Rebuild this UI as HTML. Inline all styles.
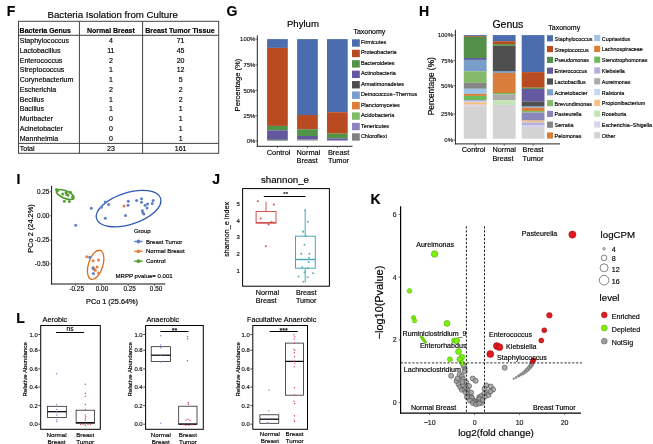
<!DOCTYPE html>
<html><head><meta charset="utf-8"><title>Figure</title><style>
html,body{margin:0;padding:0;background:#fff;width:653px;height:444px;overflow:hidden;}
svg{display:block;}
text{font-family:"Liberation Sans", Arial, Helvetica, sans-serif;stroke:currentColor;stroke-width:0.16px;}
</style></head><body>
<svg width="653" height="444" viewBox="0 0 653 444">
<text x="6.8" y="16" font-size="14" font-weight="bold">F</text>
<text x="226.6" y="15.6" font-size="14" font-weight="bold">G</text>
<text x="419" y="15.6" font-size="14" font-weight="bold">H</text>
<text x="16.6" y="184.1" font-size="14" font-weight="bold">I</text>
<text x="212.2" y="183.6" font-size="14" font-weight="bold">J</text>
<text x="370.6" y="203.5" font-size="14" font-weight="bold">K</text>
<text x="16.3" y="323" font-size="14" font-weight="bold">L</text>
<text x="47.5" y="17.5" font-size="9.7">Bacteria Isolation from Culture</text>
<rect x="18.5" y="21.3" width="200.2" height="132.0" fill="none" stroke="#444" stroke-width="1"/>
<line x1="79.4" y1="21.3" x2="79.4" y2="153" stroke="#444" stroke-width="1"/>
<line x1="142.6" y1="21.3" x2="142.6" y2="153" stroke="#444" stroke-width="1"/>
<line x1="18.5" y1="35.3" x2="218.7" y2="35.3" stroke="#444" stroke-width="1"/>
<line x1="18.5" y1="143.4" x2="218.7" y2="143.4" stroke="#444" stroke-width="1"/>
<text x="19.6" y="33" font-size="7" font-weight="bold">Bacteria Genus</text>
<text x="110.9" y="33" font-size="7" text-anchor="middle" font-weight="bold">Normal Breast</text>
<text x="179.9" y="33" font-size="7.05" text-anchor="middle" font-weight="bold">Breast Tumor Tissue</text>
<text x="19.7" y="43.10" font-size="7.05">Staphylococcus</text>
<text x="110.9" y="43.10" font-size="7" text-anchor="middle">4</text>
<text x="180.6" y="43.10" font-size="7" text-anchor="middle">71</text>
<text x="19.7" y="52.86" font-size="7.05">Lactobacillus</text>
<text x="110.9" y="52.86" font-size="7" text-anchor="middle">11</text>
<text x="180.6" y="52.86" font-size="7" text-anchor="middle">45</text>
<text x="19.7" y="62.62" font-size="7.05">Enterococcus</text>
<text x="110.9" y="62.62" font-size="7" text-anchor="middle">2</text>
<text x="180.6" y="62.62" font-size="7" text-anchor="middle">20</text>
<text x="19.7" y="72.38" font-size="7.05">Streptococcus</text>
<text x="110.9" y="72.38" font-size="7" text-anchor="middle">1</text>
<text x="180.6" y="72.38" font-size="7" text-anchor="middle">12</text>
<text x="19.7" y="82.14" font-size="7.05">Corynebacterium</text>
<text x="110.9" y="82.14" font-size="7" text-anchor="middle">1</text>
<text x="180.6" y="82.14" font-size="7" text-anchor="middle">5</text>
<text x="19.7" y="91.90" font-size="7.05">Escherichia</text>
<text x="110.9" y="91.90" font-size="7" text-anchor="middle">2</text>
<text x="180.6" y="91.90" font-size="7" text-anchor="middle">2</text>
<text x="19.7" y="101.66" font-size="7.05">Becillus</text>
<text x="110.9" y="101.66" font-size="7" text-anchor="middle">1</text>
<text x="180.6" y="101.66" font-size="7" text-anchor="middle">2</text>
<text x="19.7" y="111.42" font-size="7.05">Bacillus</text>
<text x="110.9" y="111.42" font-size="7" text-anchor="middle">1</text>
<text x="180.6" y="111.42" font-size="7" text-anchor="middle">1</text>
<text x="19.7" y="121.18" font-size="7.05">Muribacter</text>
<text x="110.9" y="121.18" font-size="7" text-anchor="middle">0</text>
<text x="180.6" y="121.18" font-size="7" text-anchor="middle">1</text>
<text x="19.7" y="130.94" font-size="7.05">Acinetobacter</text>
<text x="110.9" y="130.94" font-size="7" text-anchor="middle">0</text>
<text x="180.6" y="130.94" font-size="7" text-anchor="middle">1</text>
<text x="19.7" y="140.70" font-size="7.05">Mannheimia</text>
<text x="110.9" y="140.70" font-size="7" text-anchor="middle">0</text>
<text x="180.6" y="140.70" font-size="7" text-anchor="middle">1</text>
<text x="19.7" y="151.2" font-size="7.05">Total</text>
<text x="110.9" y="151.2" font-size="7" text-anchor="middle">23</text>
<text x="180.6" y="151.2" font-size="7" text-anchor="middle">161</text>
<text x="286.9" y="27.1" font-size="9.6">Phylum</text>
<line x1="257.3" y1="35.4" x2="257.3" y2="146.8" stroke="#222" stroke-width="1.0"/>
<line x1="256.8" y1="146.3" x2="352.5" y2="146.3" stroke="#222" stroke-width="1.0"/>
<line x1="255.3" y1="39.1" x2="257.3" y2="39.1" stroke="#333" stroke-width="0.7"/>
<text x="255.2" y="41.20" font-size="5.9" text-anchor="end" fill="#333">100%</text>
<line x1="255.3" y1="64.9" x2="257.3" y2="64.9" stroke="#333" stroke-width="0.7"/>
<text x="255.2" y="67.00" font-size="5.9" text-anchor="end" fill="#333">75%</text>
<line x1="255.3" y1="90.4" x2="257.3" y2="90.4" stroke="#333" stroke-width="0.7"/>
<text x="255.2" y="92.50" font-size="5.9" text-anchor="end" fill="#333">50%</text>
<line x1="255.3" y1="115.7" x2="257.3" y2="115.7" stroke="#333" stroke-width="0.7"/>
<text x="255.2" y="117.80" font-size="5.9" text-anchor="end" fill="#333">25%</text>
<line x1="255.3" y1="140.9" x2="257.3" y2="140.9" stroke="#333" stroke-width="0.7"/>
<text x="255.2" y="143.00" font-size="5.9" text-anchor="end" fill="#333">0%</text>
<rect x="267.10" y="39.10" width="20.70" height="8.80" fill="#4B6CAE"/>
<rect x="267.10" y="47.90" width="20.70" height="78.00" fill="#BA4A1F"/>
<rect x="267.10" y="125.90" width="20.70" height="4.40" fill="#529447"/>
<rect x="267.10" y="130.30" width="20.70" height="9.00" fill="#63579F"/>
<rect x="267.10" y="139.30" width="20.70" height="1.20" fill="#3c5f55"/>
<line x1="277.45000000000005" y1="146" x2="277.45000000000005" y2="148" stroke="#333" stroke-width="0.7"/>
<rect x="297.10" y="39.10" width="20.70" height="75.90" fill="#4B6CAE"/>
<rect x="297.10" y="115.00" width="20.70" height="14.20" fill="#BA4A1F"/>
<rect x="297.10" y="129.20" width="20.70" height="6.80" fill="#529447"/>
<rect x="297.10" y="136.00" width="20.70" height="3.60" fill="#63579F"/>
<rect x="297.10" y="139.60" width="20.70" height="0.90" fill="#828282"/>
<line x1="307.45000000000005" y1="146" x2="307.45000000000005" y2="148" stroke="#333" stroke-width="0.7"/>
<rect x="327.00" y="39.10" width="20.70" height="73.10" fill="#4B6CAE"/>
<rect x="327.00" y="112.20" width="20.70" height="21.50" fill="#BA4A1F"/>
<rect x="327.00" y="133.70" width="20.70" height="4.70" fill="#529447"/>
<rect x="327.00" y="138.40" width="20.70" height="2.10" fill="#63579F"/>
<line x1="337.35" y1="146" x2="337.35" y2="148" stroke="#333" stroke-width="0.7"/>
<text x="278.6" y="154.6" font-size="7.35" text-anchor="middle">Control</text>
<text x="308.4" y="154.6" font-size="7.35" text-anchor="middle">Normal</text>
<text x="296.56" y="162.6" font-size="7.35">Breast</text>
<text x="338.6" y="154.6" font-size="7.35" text-anchor="middle">Breast</text>
<text x="327.98" y="162.6" font-size="7.35">Tumor</text>
<text transform="translate(240.2,85.0) rotate(-90)" font-size="7.6" text-anchor="middle">Percentage (%)</text>
<text x="353.4" y="34.2" font-size="7">Taxonomy</text>
<rect x="352.00" y="39.30" width="7.80" height="7.40" fill="#4B6CAE"/>
<text x="360.9" y="44.00" font-size="5.5">Firmicutes</text>
<rect x="352.00" y="49.74" width="7.80" height="7.40" fill="#BA4A1F"/>
<text x="360.9" y="54.44" font-size="5.5">Proteobacteria</text>
<rect x="352.00" y="60.18" width="7.80" height="7.40" fill="#529447"/>
<text x="360.9" y="64.88" font-size="5.5">Bacteroidetes</text>
<rect x="352.00" y="70.62" width="7.80" height="7.40" fill="#63579F"/>
<text x="360.9" y="75.32" font-size="5.5">Actinobacteria</text>
<rect x="352.00" y="81.06" width="7.80" height="7.40" fill="#4D4D4D"/>
<text x="360.9" y="85.76" font-size="5.5">Armatimonadetes</text>
<rect x="352.00" y="91.50" width="7.80" height="7.40" fill="#769DCB"/>
<text x="360.9" y="96.20" font-size="5.5">Deinococcus−Thermus</text>
<rect x="352.00" y="101.94" width="7.80" height="7.40" fill="#DB7E38"/>
<text x="360.9" y="106.64" font-size="5.5">Planctomycetes</text>
<rect x="352.00" y="112.38" width="7.80" height="7.40" fill="#7DBB68"/>
<text x="360.9" y="117.08" font-size="5.5">Acidobacteria</text>
<rect x="352.00" y="122.82" width="7.80" height="7.40" fill="#8A84C0"/>
<text x="360.9" y="127.52" font-size="5.5">Tenericutes</text>
<rect x="352.00" y="133.26" width="7.80" height="7.40" fill="#828282"/>
<text x="360.9" y="137.96" font-size="5.5">Chloroflexi</text>
<text x="492.4" y="27.9" font-size="10.5">Genus</text>
<line x1="455.4" y1="29.8" x2="455.4" y2="144.4" stroke="#222" stroke-width="1.0"/>
<line x1="455" y1="143.9" x2="560" y2="143.9" stroke="#222" stroke-width="1.0"/>
<line x1="453.3" y1="35.1" x2="455.4" y2="35.1" stroke="#333" stroke-width="0.7"/>
<text x="453" y="37.20" font-size="6.0" text-anchor="end" fill="#333">100%</text>
<line x1="453.3" y1="60.7" x2="455.4" y2="60.7" stroke="#333" stroke-width="0.7"/>
<text x="453" y="62.80" font-size="6.0" text-anchor="end" fill="#333">75%</text>
<line x1="453.3" y1="85.8" x2="455.4" y2="85.8" stroke="#333" stroke-width="0.7"/>
<text x="453" y="87.90" font-size="6.0" text-anchor="end" fill="#333">50%</text>
<line x1="453.3" y1="114.0" x2="455.4" y2="114.0" stroke="#333" stroke-width="0.7"/>
<text x="453" y="116.10" font-size="6.0" text-anchor="end" fill="#333">25%</text>
<line x1="453.3" y1="140.0" x2="455.4" y2="140.0" stroke="#333" stroke-width="0.7"/>
<text x="453" y="142.10" font-size="6.0" text-anchor="end" fill="#333">0%</text>
<rect x="463.80" y="35.10" width="22.80" height="1.00" fill="#4B6DAE"/>
<rect x="463.80" y="36.10" width="22.80" height="0.80" fill="#B84C20"/>
<rect x="463.80" y="36.90" width="22.80" height="21.10" fill="#538F48"/>
<rect x="463.80" y="58.00" width="22.80" height="1.90" fill="#6459A0"/>
<rect x="463.80" y="59.90" width="22.80" height="11.40" fill="#789DC9"/>
<rect x="463.80" y="71.30" width="22.80" height="11.60" fill="#84BA6A"/>
<rect x="463.80" y="82.90" width="22.80" height="5.90" fill="#858585"/>
<rect x="463.80" y="88.80" width="22.80" height="5.10" fill="#9DC3E6"/>
<rect x="463.80" y="93.90" width="22.80" height="2.00" fill="#DD7E35"/>
<rect x="463.80" y="95.90" width="22.80" height="4.10" fill="#6BBB5C"/>
<rect x="463.80" y="100.00" width="22.80" height="1.60" fill="#B3AFDF"/>
<rect x="463.80" y="101.60" width="22.80" height="0.60" fill="#C5D8EF"/>
<rect x="463.80" y="102.20" width="22.80" height="2.60" fill="#F2C283"/>
<rect x="463.80" y="104.80" width="22.80" height="1.40" fill="#D9D5EE"/>
<rect x="463.80" y="106.20" width="22.80" height="32.50" fill="#D3D3D3"/>
<line x1="475.2" y1="143.9" x2="475.2" y2="145.9" stroke="#333" stroke-width="0.7"/>
<rect x="492.80" y="35.10" width="22.80" height="6.10" fill="#4B6DAE"/>
<rect x="492.80" y="41.20" width="22.80" height="2.90" fill="#B84C20"/>
<rect x="492.80" y="44.10" width="22.80" height="1.70" fill="#538F48"/>
<rect x="492.80" y="45.80" width="22.80" height="25.20" fill="#4F4F4F"/>
<rect x="492.80" y="71.00" width="22.80" height="1.90" fill="#789DC9"/>
<rect x="492.80" y="72.90" width="22.80" height="20.10" fill="#D97E3A"/>
<rect x="492.80" y="93.00" width="22.80" height="1.50" fill="#6BBB5C"/>
<rect x="492.80" y="94.50" width="22.80" height="5.70" fill="#ABABAB"/>
<rect x="492.80" y="100.20" width="22.80" height="4.60" fill="#C4E4B6"/>
<rect x="492.80" y="104.80" width="22.80" height="33.90" fill="#D3D3D3"/>
<line x1="504.2" y1="143.9" x2="504.2" y2="145.9" stroke="#333" stroke-width="0.7"/>
<rect x="521.70" y="35.10" width="22.80" height="37.00" fill="#4B6DAE"/>
<rect x="521.70" y="72.10" width="22.80" height="15.60" fill="#B84C20"/>
<rect x="521.70" y="87.70" width="22.80" height="1.20" fill="#538F48"/>
<rect x="521.70" y="88.90" width="22.80" height="12.50" fill="#6459A0"/>
<rect x="521.70" y="101.40" width="22.80" height="4.60" fill="#4F4F4F"/>
<rect x="521.70" y="106.00" width="22.80" height="1.60" fill="#789DC9"/>
<rect x="521.70" y="107.60" width="22.80" height="3.50" fill="#D97E3A"/>
<rect x="521.70" y="111.10" width="22.80" height="1.40" fill="#6BBB5C"/>
<rect x="521.70" y="112.50" width="22.80" height="8.10" fill="#8B86BA"/>
<rect x="521.70" y="120.60" width="22.80" height="2.00" fill="#F2C283"/>
<rect x="521.70" y="122.60" width="22.80" height="3.00" fill="#B3AFDF"/>
<rect x="521.70" y="125.60" width="22.80" height="1.40" fill="#D9D5EE"/>
<rect x="521.70" y="127.00" width="22.80" height="11.70" fill="#D3D3D3"/>
<line x1="533.1" y1="143.9" x2="533.1" y2="145.9" stroke="#333" stroke-width="0.7"/>
<text x="473.6" y="152.1" font-size="7.3" text-anchor="middle">Control</text>
<text x="504.2" y="152.1" font-size="7.3" text-anchor="middle">Normal</text>
<text x="492.44" y="160.6" font-size="7.3">Breast</text>
<text x="533.1" y="152.1" font-size="7.3" text-anchor="middle">Breast</text>
<text x="522.55" y="160.6" font-size="7.3">Tumor</text>
<text transform="translate(434.2,86.2) rotate(-90)" font-size="8.4" text-anchor="middle">Percentage (%)</text>
<text x="548.3" y="30" font-size="7">Taxonomy</text>
<rect x="547.00" y="35.20" width="6.00" height="6.20" fill="#4B6DAE"/>
<text x="554.6" y="40.70" font-size="5.4">Staphylococcus</text>
<rect x="547.00" y="46.00" width="6.00" height="6.20" fill="#B84C20"/>
<text x="554.6" y="51.50" font-size="5.4">Streptococcus</text>
<rect x="547.00" y="56.80" width="6.00" height="6.20" fill="#538F48"/>
<text x="554.6" y="62.30" font-size="5.4">Pseudomonas</text>
<rect x="547.00" y="67.60" width="6.00" height="6.20" fill="#6459A0"/>
<text x="554.6" y="73.10" font-size="5.4">Enterococcus</text>
<rect x="547.00" y="78.40" width="6.00" height="6.20" fill="#4F4F4F"/>
<text x="554.6" y="83.90" font-size="5.4">Lactobacillus</text>
<rect x="547.00" y="89.20" width="6.00" height="6.20" fill="#789DC9"/>
<text x="554.6" y="94.70" font-size="5.4">Acinetobacter</text>
<rect x="547.00" y="100.00" width="6.00" height="6.20" fill="#84BA6A"/>
<text x="554.6" y="105.50" font-size="5.4">Brevundimonas</text>
<rect x="547.00" y="110.80" width="6.00" height="6.20" fill="#8B86BA"/>
<text x="554.6" y="116.30" font-size="5.4">Pasteurella</text>
<rect x="547.00" y="121.60" width="6.00" height="6.20" fill="#858585"/>
<text x="554.6" y="127.10" font-size="5.4">Serratia</text>
<rect x="547.00" y="132.40" width="6.00" height="6.20" fill="#D97E3A"/>
<text x="554.6" y="137.90" font-size="5.4">Pelomonas</text>
<rect x="594.20" y="35.00" width="6.00" height="6.20" fill="#9DC3E6"/>
<text x="601.8" y="40.50" font-size="5.4">Cupriavidus</text>
<rect x="594.20" y="45.80" width="6.00" height="6.20" fill="#DD7E35"/>
<text x="601.8" y="51.30" font-size="5.4">Lachnospiraceae</text>
<rect x="594.20" y="56.60" width="6.00" height="6.20" fill="#6BBB5C"/>
<text x="601.8" y="62.10" font-size="5.4">Stenotrophomonas</text>
<rect x="594.20" y="67.40" width="6.00" height="6.20" fill="#B3AFDF"/>
<text x="601.8" y="72.90" font-size="5.4">Klebsiella</text>
<rect x="594.20" y="78.20" width="6.00" height="6.20" fill="#ABABAB"/>
<text x="601.8" y="83.70" font-size="5.4">Aureimonas</text>
<rect x="594.20" y="89.00" width="6.00" height="6.20" fill="#C5D8EF"/>
<text x="601.8" y="94.50" font-size="5.4">Ralstonia</text>
<rect x="594.20" y="99.80" width="6.00" height="6.20" fill="#F2C283"/>
<text x="601.8" y="105.30" font-size="5.4">Propionibacterium</text>
<rect x="594.20" y="110.60" width="6.00" height="6.20" fill="#C4E4B6"/>
<text x="601.8" y="116.10" font-size="5.4">Roseburia</text>
<rect x="594.20" y="121.40" width="6.00" height="6.20" fill="#D9D5EE"/>
<text x="601.8" y="126.90" font-size="5.4">Escherichia−Shigella</text>
<rect x="594.20" y="132.20" width="6.00" height="6.20" fill="#D3D3D3"/>
<text x="601.8" y="137.70" font-size="5.4">Other</text>
<line x1="51.6" y1="185.8" x2="51.6" y2="284.5" stroke="#111" stroke-width="1"/>
<line x1="51.1" y1="284.0" x2="165.4" y2="284.0" stroke="#111" stroke-width="1"/>
<line x1="49.6" y1="191.8" x2="51.6" y2="191.8" stroke="#333" stroke-width="0.7"/>
<text x="49.4" y="194.10" font-size="6.4" text-anchor="end" fill="#222">0.25</text>
<line x1="49.6" y1="215.8" x2="51.6" y2="215.8" stroke="#333" stroke-width="0.7"/>
<text x="49.4" y="218.10" font-size="6.4" text-anchor="end" fill="#222">0.00</text>
<line x1="49.6" y1="240.1" x2="51.6" y2="240.1" stroke="#333" stroke-width="0.7"/>
<text x="49.4" y="242.40" font-size="6.4" text-anchor="end" fill="#222">-0.25</text>
<line x1="49.6" y1="263.9" x2="51.6" y2="263.9" stroke="#333" stroke-width="0.7"/>
<text x="49.4" y="266.20" font-size="6.4" text-anchor="end" fill="#222">-0.50</text>
<line x1="75.6" y1="284.0" x2="75.6" y2="286.0" stroke="#333" stroke-width="0.7"/>
<text x="76.7" y="290.6" font-size="6.4" text-anchor="middle" fill="#222">-0.25</text>
<line x1="101.3" y1="284.0" x2="101.3" y2="286.0" stroke="#333" stroke-width="0.7"/>
<text x="102.0" y="290.6" font-size="6.4" text-anchor="middle" fill="#222">0.00</text>
<line x1="128.2" y1="284.0" x2="128.2" y2="286.0" stroke="#333" stroke-width="0.7"/>
<text x="129.7" y="290.6" font-size="6.4" text-anchor="middle" fill="#222">0.25</text>
<line x1="154.4" y1="284.0" x2="154.4" y2="286.0" stroke="#333" stroke-width="0.7"/>
<text x="156.1" y="290.6" font-size="6.4" text-anchor="middle" fill="#222">0.50</text>
<text x="112.0" y="303.6" font-size="7.3" text-anchor="middle">PCo 1 (25.64%)</text>
<text transform="translate(33.0,228.5) rotate(-90)" font-size="7.4" text-anchor="middle">PCo 2 (24.2%)</text>
<ellipse cx="0" cy="0" rx="33.6" ry="15.8" fill="none" stroke="#2E5CB2" stroke-width="1.3" transform="translate(128.6,208.6) rotate(-17.8)"/>
<ellipse cx="0" cy="0" rx="15.1" ry="7.2" fill="none" stroke="#DA6F22" stroke-width="1.3" transform="translate(95.65,264.85) rotate(-73)"/>
<ellipse cx="0" cy="0" rx="9.5" ry="3.7" fill="none" stroke="#4F9A2C" stroke-width="1.7" transform="translate(65.2,194.5) rotate(22.5)"/>
<circle cx="57.70" cy="190.40" r="1.5" fill="#56A02F"/>
<circle cx="62.70" cy="194.00" r="1.5" fill="#56A02F"/>
<circle cx="66.90" cy="194.60" r="1.5" fill="#56A02F"/>
<circle cx="68.00" cy="195.20" r="1.5" fill="#56A02F"/>
<circle cx="70.30" cy="192.20" r="1.5" fill="#56A02F"/>
<circle cx="64.40" cy="201.20" r="1.5" fill="#56A02F"/>
<circle cx="69.40" cy="201.60" r="1.5" fill="#56A02F"/>
<circle cx="72.50" cy="196.90" r="1.5" fill="#56A02F"/>
<circle cx="56.50" cy="189.60" r="1.5" fill="#56A02F"/>
<circle cx="66.00" cy="192.80" r="1.5" fill="#56A02F"/>
<circle cx="124.00" cy="205.90" r="1.5" fill="#E5803E"/>
<circle cx="86.80" cy="256.70" r="1.5" fill="#E5803E"/>
<circle cx="93.10" cy="260.80" r="1.5" fill="#E5803E"/>
<circle cx="98.50" cy="260.10" r="1.5" fill="#E5803E"/>
<circle cx="93.10" cy="267.50" r="1.5" fill="#E5803E"/>
<circle cx="97.10" cy="267.10" r="1.5" fill="#E5803E"/>
<circle cx="94.40" cy="269.30" r="1.5" fill="#E5803E"/>
<circle cx="95.20" cy="270.20" r="1.5" fill="#E5803E"/>
<circle cx="98.50" cy="272.90" r="1.5" fill="#E5803E"/>
<circle cx="91.30" cy="208.30" r="1.5" fill="#6180C8"/>
<circle cx="75.70" cy="225.30" r="1.5" fill="#6180C8"/>
<circle cx="105.30" cy="201.90" r="1.5" fill="#6180C8"/>
<circle cx="108.60" cy="204.50" r="1.5" fill="#6180C8"/>
<circle cx="101.40" cy="207.20" r="1.5" fill="#6180C8"/>
<circle cx="105.30" cy="218.20" r="1.5" fill="#6180C8"/>
<circle cx="125.50" cy="215.50" r="1.5" fill="#6180C8"/>
<circle cx="128.30" cy="201.30" r="1.5" fill="#6180C8"/>
<circle cx="128.00" cy="205.30" r="1.5" fill="#6180C8"/>
<circle cx="136.60" cy="200.40" r="1.5" fill="#6180C8"/>
<circle cx="141.50" cy="198.80" r="1.5" fill="#6180C8"/>
<circle cx="141.50" cy="202.30" r="1.5" fill="#6180C8"/>
<circle cx="145.10" cy="205.30" r="1.5" fill="#6180C8"/>
<circle cx="147.60" cy="204.10" r="1.5" fill="#6180C8"/>
<circle cx="147.00" cy="208.10" r="1.5" fill="#6180C8"/>
<circle cx="153.10" cy="200.40" r="1.5" fill="#6180C8"/>
<circle cx="152.20" cy="203.50" r="1.5" fill="#6180C8"/>
<circle cx="142.40" cy="210.80" r="1.5" fill="#6180C8"/>
<circle cx="143.90" cy="213.90" r="1.5" fill="#6180C8"/>
<circle cx="142.90" cy="212.70" r="1.5" fill="#6180C8"/>
<circle cx="89.70" cy="257.20" r="1.5" fill="#6180C8"/>
<circle cx="93.30" cy="273.60" r="1.5" fill="#6180C8"/>
<circle cx="93.10" cy="268.40" r="1.5" fill="#6180C8"/>
<text x="133.9" y="233.4" font-size="6.05">Group</text>
<line x1="134.2" y1="241.5" x2="142.7" y2="241.5" stroke="#6180C8" stroke-width="1.4"/>
<circle cx="138.45" cy="241.50" r="1.9" fill="#6180C8"/>
<text x="146.0" y="243.50" font-size="6.05">Breast Tumor</text>
<line x1="134.2" y1="251.35" x2="142.7" y2="251.35" stroke="#E5803E" stroke-width="1.4"/>
<circle cx="138.45" cy="251.35" r="1.9" fill="#E5803E"/>
<text x="146.0" y="253.35" font-size="6.05">Normal Breast</text>
<line x1="134.2" y1="261.2" x2="142.7" y2="261.2" stroke="#56A02F" stroke-width="1.4"/>
<circle cx="138.45" cy="261.20" r="1.9" fill="#56A02F"/>
<text x="146.0" y="263.20" font-size="6.05">Control</text>
<text x="115.5" y="278.0" font-size="6.05">MRPP pvalue= 0.001</text>
<text x="261.0" y="182.6" font-size="9.7">shannon_e</text>
<rect x="242.6" y="188.6" width="86.8" height="97.6" fill="none" stroke="#000" stroke-width="1"/>
<text x="239.8" y="272.90" font-size="6.0" text-anchor="end" fill="#222">1</text>
<text x="239.8" y="256.10" font-size="6.0" text-anchor="end" fill="#222">2</text>
<text x="239.8" y="239.30" font-size="6.0" text-anchor="end" fill="#222">3</text>
<text x="239.8" y="222.50" font-size="6.0" text-anchor="end" fill="#222">4</text>
<text x="239.8" y="205.70" font-size="6.0" text-anchor="end" fill="#222">5</text>
<text transform="translate(229.0,229.4) rotate(-90)" font-size="7.2" text-anchor="middle">shannon_e index</text>
<text x="267.4" y="294.9" font-size="7.2" text-anchor="middle">Normal</text>
<text x="255.8" y="303.4" font-size="7.2">Breast</text>
<text x="306.3" y="294.9" font-size="7.2" text-anchor="middle">Breast</text>
<text x="295.9" y="303.4" font-size="7.2">Tumor</text>
<line x1="263.8" y1="196.5" x2="305.5" y2="196.5" stroke="#000" stroke-width="1.1"/>
<text x="285.7" y="196.3" font-size="6.0" text-anchor="middle">**</text>
<line x1="266.0" y1="201.7" x2="266.0" y2="211.4" stroke="#D2524F" stroke-width="1"/>
<rect x="256.1" y="211.5" width="19.9" height="11.5" fill="none" stroke="#D2524F" stroke-width="1"/>
<line x1="256.1" y1="222.7" x2="276.0" y2="222.7" stroke="#D2524F" stroke-width="1.5"/>
<circle cx="257.90" cy="201.30" r="1.0" fill="#D2524F"/>
<circle cx="273.80" cy="204.50" r="1.0" fill="#D2524F"/>
<circle cx="260.60" cy="218.50" r="1.0" fill="#D2524F"/>
<circle cx="268.50" cy="224.60" r="1.0" fill="#D2524F"/>
<circle cx="265.80" cy="246.30" r="1.0" fill="#D2524F"/>
<circle cx="271.50" cy="222.00" r="1.0" fill="#D2524F"/>
<line x1="305.2" y1="210.2" x2="305.2" y2="236.2" stroke="#47A9B0" stroke-width="1"/>
<line x1="305.2" y1="268.2" x2="305.2" y2="282.3" stroke="#47A9B0" stroke-width="1"/>
<rect x="295.5" y="236.2" width="19.8" height="32.0" fill="none" stroke="#47A9B0" stroke-width="1"/>
<line x1="295.5" y1="259.5" x2="315.3" y2="259.5" stroke="#47A9B0" stroke-width="1.4"/>
<circle cx="305.10" cy="210.20" r="1.0" fill="#5DB4BA"/>
<circle cx="307.80" cy="221.70" r="1.0" fill="#5DB4BA"/>
<circle cx="303.10" cy="231.50" r="1.0" fill="#5DB4BA"/>
<circle cx="303.10" cy="231.70" r="1.0" fill="#5DB4BA"/>
<circle cx="304.50" cy="244.80" r="1.0" fill="#5DB4BA"/>
<circle cx="301.30" cy="253.80" r="1.0" fill="#5DB4BA"/>
<circle cx="309.40" cy="253.80" r="1.0" fill="#5DB4BA"/>
<circle cx="309.00" cy="257.80" r="1.0" fill="#5DB4BA"/>
<circle cx="301.30" cy="259.60" r="1.0" fill="#5DB4BA"/>
<circle cx="308.50" cy="262.00" r="1.0" fill="#5DB4BA"/>
<circle cx="302.20" cy="267.30" r="1.0" fill="#5DB4BA"/>
<circle cx="307.60" cy="267.90" r="1.0" fill="#5DB4BA"/>
<circle cx="304.50" cy="272.20" r="1.0" fill="#5DB4BA"/>
<circle cx="313.00" cy="273.30" r="1.0" fill="#5DB4BA"/>
<circle cx="298.60" cy="276.40" r="1.0" fill="#5DB4BA"/>
<circle cx="307.60" cy="277.30" r="1.0" fill="#5DB4BA"/>
<circle cx="303.40" cy="281.80" r="1.0" fill="#5DB4BA"/>
<circle cx="306.00" cy="236.00" r="1.0" fill="#5DB4BA"/>
<circle cx="451.20" cy="375.80" r="2.5" fill="#9E9E9E" stroke="#555555" stroke-width="0.7" fill-opacity="0.8"/>
<circle cx="459.60" cy="374.60" r="2.5" fill="#9E9E9E" stroke="#555555" stroke-width="0.7" fill-opacity="0.8"/>
<circle cx="461.90" cy="376.30" r="2.5" fill="#9E9E9E" stroke="#555555" stroke-width="0.7" fill-opacity="0.8"/>
<circle cx="464.70" cy="368.40" r="2.5" fill="#9E9E9E" stroke="#555555" stroke-width="0.7" fill-opacity="0.8"/>
<circle cx="464.70" cy="371.30" r="2.5" fill="#9E9E9E" stroke="#555555" stroke-width="0.7" fill-opacity="0.8"/>
<circle cx="463.00" cy="379.10" r="2.5" fill="#9E9E9E" stroke="#555555" stroke-width="0.7" fill-opacity="0.8"/>
<circle cx="472.80" cy="378.60" r="2.5" fill="#9E9E9E" stroke="#555555" stroke-width="0.7" fill-opacity="0.8"/>
<circle cx="475.60" cy="380.80" r="2.5" fill="#9E9E9E" stroke="#555555" stroke-width="0.7" fill-opacity="0.8"/>
<circle cx="458.50" cy="384.20" r="2.5" fill="#9E9E9E" stroke="#555555" stroke-width="0.7" fill-opacity="0.8"/>
<circle cx="460.20" cy="387.00" r="2.5" fill="#9E9E9E" stroke="#555555" stroke-width="0.7" fill-opacity="0.8"/>
<circle cx="463.00" cy="385.30" r="2.5" fill="#9E9E9E" stroke="#555555" stroke-width="0.7" fill-opacity="0.8"/>
<circle cx="461.90" cy="389.80" r="2.5" fill="#9E9E9E" stroke="#555555" stroke-width="0.7" fill-opacity="0.8"/>
<circle cx="464.70" cy="389.30" r="2.5" fill="#9E9E9E" stroke="#555555" stroke-width="0.7" fill-opacity="0.8"/>
<circle cx="467.50" cy="389.80" r="2.5" fill="#9E9E9E" stroke="#555555" stroke-width="0.7" fill-opacity="0.8"/>
<circle cx="465.80" cy="392.60" r="2.5" fill="#9E9E9E" stroke="#555555" stroke-width="0.7" fill-opacity="0.8"/>
<circle cx="468.60" cy="393.80" r="2.5" fill="#9E9E9E" stroke="#555555" stroke-width="0.7" fill-opacity="0.8"/>
<circle cx="469.20" cy="396.60" r="2.5" fill="#9E9E9E" stroke="#555555" stroke-width="0.7" fill-opacity="0.8"/>
<circle cx="471.40" cy="397.70" r="2.5" fill="#9E9E9E" stroke="#555555" stroke-width="0.7" fill-opacity="0.8"/>
<circle cx="472.60" cy="400.00" r="2.5" fill="#9E9E9E" stroke="#555555" stroke-width="0.7" fill-opacity="0.8"/>
<circle cx="474.80" cy="401.60" r="2.5" fill="#9E9E9E" stroke="#555555" stroke-width="0.7" fill-opacity="0.8"/>
<circle cx="476.50" cy="402.20" r="2.5" fill="#9E9E9E" stroke="#555555" stroke-width="0.7" fill-opacity="0.8"/>
<circle cx="478.80" cy="400.00" r="2.5" fill="#9E9E9E" stroke="#555555" stroke-width="0.7" fill-opacity="0.8"/>
<circle cx="479.30" cy="397.10" r="2.5" fill="#9E9E9E" stroke="#555555" stroke-width="0.7" fill-opacity="0.8"/>
<circle cx="486.30" cy="385.40" r="2.5" fill="#9E9E9E" stroke="#555555" stroke-width="0.7" fill-opacity="0.8"/>
<circle cx="490.80" cy="386.50" r="2.5" fill="#9E9E9E" stroke="#555555" stroke-width="0.7" fill-opacity="0.8"/>
<circle cx="493.10" cy="389.50" r="2.5" fill="#9E9E9E" stroke="#555555" stroke-width="0.7" fill-opacity="0.8"/>
<circle cx="484.60" cy="388.70" r="2.5" fill="#9E9E9E" stroke="#555555" stroke-width="0.7" fill-opacity="0.8"/>
<circle cx="487.50" cy="392.70" r="2.5" fill="#9E9E9E" stroke="#555555" stroke-width="0.7" fill-opacity="0.8"/>
<circle cx="484.10" cy="393.80" r="2.5" fill="#9E9E9E" stroke="#555555" stroke-width="0.7" fill-opacity="0.8"/>
<circle cx="481.30" cy="396.10" r="2.5" fill="#9E9E9E" stroke="#555555" stroke-width="0.7" fill-opacity="0.8"/>
<circle cx="479.60" cy="398.90" r="2.5" fill="#9E9E9E" stroke="#555555" stroke-width="0.7" fill-opacity="0.8"/>
<circle cx="481.80" cy="402.80" r="2.5" fill="#9E9E9E" stroke="#555555" stroke-width="0.7" fill-opacity="0.8"/>
<circle cx="475.10" cy="402.30" r="2.5" fill="#9E9E9E" stroke="#555555" stroke-width="0.7" fill-opacity="0.8"/>
<circle cx="473.40" cy="400.60" r="2.5" fill="#9E9E9E" stroke="#555555" stroke-width="0.7" fill-opacity="0.8"/>
<circle cx="471.70" cy="397.70" r="2.5" fill="#9E9E9E" stroke="#555555" stroke-width="0.7" fill-opacity="0.8"/>
<circle cx="471.10" cy="392.70" r="2.5" fill="#9E9E9E" stroke="#555555" stroke-width="0.7" fill-opacity="0.8"/>
<circle cx="504.70" cy="367.70" r="2.5" fill="#9E9E9E" stroke="#555555" stroke-width="0.7" fill-opacity="0.8"/>
<circle cx="463.50" cy="365.50" r="2.5" fill="#9E9E9E" stroke="#555555" stroke-width="0.7" fill-opacity="0.8"/>
<circle cx="466.00" cy="382.00" r="2.5" fill="#9E9E9E" stroke="#555555" stroke-width="0.7" fill-opacity="0.8"/>
<circle cx="469.00" cy="386.00" r="2.5" fill="#9E9E9E" stroke="#555555" stroke-width="0.7" fill-opacity="0.8"/>
<circle cx="467.00" cy="397.00" r="2.5" fill="#9E9E9E" stroke="#555555" stroke-width="0.7" fill-opacity="0.8"/>
<circle cx="470.00" cy="400.50" r="2.5" fill="#9E9E9E" stroke="#555555" stroke-width="0.7" fill-opacity="0.8"/>
<circle cx="473.00" cy="403.00" r="2.5" fill="#9E9E9E" stroke="#555555" stroke-width="0.7" fill-opacity="0.8"/>
<circle cx="476.00" cy="404.30" r="2.5" fill="#9E9E9E" stroke="#555555" stroke-width="0.7" fill-opacity="0.8"/>
<circle cx="479.00" cy="403.50" r="2.5" fill="#9E9E9E" stroke="#555555" stroke-width="0.7" fill-opacity="0.8"/>
<circle cx="482.50" cy="400.00" r="2.5" fill="#9E9E9E" stroke="#555555" stroke-width="0.7" fill-opacity="0.8"/>
<circle cx="485.00" cy="396.50" r="2.5" fill="#9E9E9E" stroke="#555555" stroke-width="0.7" fill-opacity="0.8"/>
<circle cx="462.50" cy="382.00" r="2.5" fill="#9E9E9E" stroke="#555555" stroke-width="0.7" fill-opacity="0.8"/>
<circle cx="456.50" cy="381.00" r="2.5" fill="#9E9E9E" stroke="#555555" stroke-width="0.7" fill-opacity="0.8"/>
<circle cx="457.50" cy="378.50" r="2.5" fill="#9E9E9E" stroke="#555555" stroke-width="0.7" fill-opacity="0.8"/>
<circle cx="466.00" cy="387.50" r="2.5" fill="#9E9E9E" stroke="#555555" stroke-width="0.7" fill-opacity="0.8"/>
<circle cx="488.50" cy="395.00" r="2.5" fill="#9E9E9E" stroke="#555555" stroke-width="0.7" fill-opacity="0.8"/>
<circle cx="490.50" cy="391.50" r="2.5" fill="#9E9E9E" stroke="#555555" stroke-width="0.7" fill-opacity="0.8"/>
<circle cx="513.70" cy="378.80" r="0.8" fill="#9E9E9E" stroke="#555555" stroke-width="0.5"/>
<circle cx="516.00" cy="377.50" r="1.0" fill="#9E9E9E" stroke="#555555" stroke-width="0.5"/>
<circle cx="518.50" cy="376.00" r="1.2" fill="#9E9E9E" stroke="#555555" stroke-width="0.5"/>
<circle cx="521.00" cy="374.50" r="1.4" fill="#9E9E9E" stroke="#555555" stroke-width="0.5"/>
<circle cx="523.50" cy="373.00" r="1.6" fill="#9E9E9E" stroke="#555555" stroke-width="0.5"/>
<circle cx="525.50" cy="371.30" r="1.8" fill="#9E9E9E" stroke="#555555" stroke-width="0.5"/>
<circle cx="527.50" cy="369.50" r="2.0" fill="#9E9E9E" stroke="#555555" stroke-width="0.5"/>
<circle cx="529.50" cy="367.50" r="2.0" fill="#9E9E9E" stroke="#555555" stroke-width="0.5"/>
<circle cx="531.00" cy="365.50" r="2.1" fill="#9E9E9E" stroke="#555555" stroke-width="0.5"/>
<circle cx="532.00" cy="363.60" r="2.2" fill="#9E9E9E" stroke="#555555" stroke-width="0.5"/>
<circle cx="434.60" cy="254.00" r="3.3" fill="#7AF20A" stroke="#4E9A0A" stroke-width="0.5"/>
<circle cx="409.50" cy="290.90" r="2.3" fill="#7AF20A" stroke="#4E9A0A" stroke-width="0.5"/>
<circle cx="413.50" cy="317.60" r="2.2" fill="#7AF20A" stroke="#4E9A0A" stroke-width="0.5"/>
<circle cx="414.60" cy="320.70" r="2.2" fill="#7AF20A" stroke="#4E9A0A" stroke-width="0.5"/>
<circle cx="447.00" cy="323.40" r="3.0" fill="#7AF20A" stroke="#4E9A0A" stroke-width="0.5"/>
<circle cx="421.60" cy="337.20" r="1.4" fill="#7AF20A" stroke="#4E9A0A" stroke-width="0.5"/>
<circle cx="422.80" cy="338.80" r="1.4" fill="#7AF20A" stroke="#4E9A0A" stroke-width="0.5"/>
<circle cx="424.00" cy="340.40" r="1.4" fill="#7AF20A" stroke="#4E9A0A" stroke-width="0.5"/>
<circle cx="425.20" cy="342.00" r="1.4" fill="#7AF20A" stroke="#4E9A0A" stroke-width="0.5"/>
<circle cx="454.00" cy="340.60" r="2.5" fill="#7AF20A" stroke="#4E9A0A" stroke-width="0.5"/>
<circle cx="456.70" cy="340.80" r="3.0" fill="#7AF20A" stroke="#4E9A0A" stroke-width="0.5"/>
<circle cx="458.50" cy="351.60" r="3.0" fill="#7AF20A" stroke="#4E9A0A" stroke-width="0.5"/>
<circle cx="449.90" cy="359.30" r="2.5" fill="#7AF20A" stroke="#4E9A0A" stroke-width="0.5"/>
<circle cx="462.10" cy="357.10" r="2.8" fill="#7AF20A" stroke="#4E9A0A" stroke-width="0.5"/>
<circle cx="459.70" cy="359.30" r="2.8" fill="#7AF20A" stroke="#4E9A0A" stroke-width="0.5"/>
<circle cx="462.10" cy="362.90" r="2.5" fill="#7AF20A" stroke="#4E9A0A" stroke-width="0.5"/>
<circle cx="572.40" cy="234.60" r="3.6" fill="#DE1A20" stroke="#951012" stroke-width="0.5"/>
<circle cx="549.40" cy="315.30" r="2.8" fill="#DE1A20" stroke="#951012" stroke-width="0.5"/>
<circle cx="544.30" cy="330.30" r="2.5" fill="#DE1A20" stroke="#951012" stroke-width="0.5"/>
<circle cx="541.30" cy="340.50" r="2.5" fill="#DE1A20" stroke="#951012" stroke-width="0.5"/>
<circle cx="496.80" cy="346.00" r="3.4" fill="#DE1A20" stroke="#951012" stroke-width="0.5"/>
<circle cx="499.50" cy="347.20" r="3.4" fill="#DE1A20" stroke="#951012" stroke-width="0.5"/>
<circle cx="490.30" cy="354.10" r="3.5" fill="#DE1A20" stroke="#951012" stroke-width="0.5"/>
<circle cx="532.30" cy="361.60" r="2.2" fill="#DE1A20" stroke="#951012" stroke-width="0.5"/>
<circle cx="533.80" cy="360.00" r="2.2" fill="#DE1A20" stroke="#951012" stroke-width="0.5"/>
<line x1="466.4" y1="226.3" x2="466.4" y2="413" stroke="#222" stroke-width="1" stroke-dasharray="2.3 1.6"/>
<line x1="484.5" y1="226.3" x2="484.5" y2="413" stroke="#222" stroke-width="1" stroke-dasharray="2.3 1.6"/>
<line x1="400.6" y1="362.9" x2="582" y2="362.9" stroke="#333" stroke-width="1" stroke-dasharray="2.3 1.6"/>
<line x1="400.6" y1="206.2" x2="400.6" y2="413.6" stroke="#000" stroke-width="1.2"/>
<line x1="400.0" y1="413.1" x2="581" y2="413.1" stroke="#000" stroke-width="1.2"/>
<line x1="398.6" y1="402.6" x2="400.6" y2="402.6" stroke="#333" stroke-width="0.7"/>
<text x="396.6" y="405.10" font-size="7" text-anchor="end" fill="#333">0</text>
<line x1="398.6" y1="339.90000000000003" x2="400.6" y2="339.90000000000003" stroke="#333" stroke-width="0.7"/>
<text x="396.6" y="342.40" font-size="7" text-anchor="end" fill="#333">2</text>
<line x1="398.6" y1="277.20000000000005" x2="400.6" y2="277.20000000000005" stroke="#333" stroke-width="0.7"/>
<text x="396.6" y="279.70" font-size="7" text-anchor="end" fill="#333">4</text>
<line x1="398.6" y1="214.5" x2="400.6" y2="214.5" stroke="#333" stroke-width="0.7"/>
<text x="396.6" y="217.00" font-size="7" text-anchor="end" fill="#333">6</text>
<line x1="429.6" y1="413.1" x2="429.6" y2="415.1" stroke="#333" stroke-width="0.7"/>
<text x="429.6" y="425.4" font-size="7" text-anchor="middle" fill="#333">−10</text>
<line x1="474.6" y1="413.1" x2="474.6" y2="415.1" stroke="#333" stroke-width="0.7"/>
<text x="474.6" y="425.4" font-size="7" text-anchor="middle" fill="#333">0</text>
<line x1="519.6" y1="413.1" x2="519.6" y2="415.1" stroke="#333" stroke-width="0.7"/>
<text x="519.6" y="425.4" font-size="7" text-anchor="middle" fill="#333">10</text>
<line x1="564.6" y1="413.1" x2="564.6" y2="415.1" stroke="#333" stroke-width="0.7"/>
<text x="564.6" y="425.4" font-size="7" text-anchor="middle" fill="#333">20</text>
<text x="496.0" y="436.0" font-size="9.8" text-anchor="middle">log2(fold change)</text>
<text transform="translate(383.3,302.5) rotate(-90)" font-size="10.9" text-anchor="middle">−log10(Pvalue)</text>
<text x="416.2" y="246.7" font-size="7.1">Aureimonas</text>
<text x="521.8" y="236.1" font-size="7.1">Pasteurella</text>
<text x="402.6" y="335.5" font-size="7.1">Ruminiclostridium_9</text>
<text x="419.9" y="348.1" font-size="7.1">Enterorhabdus</text>
<text x="489.0" y="336.9" font-size="7.1">Enterococcus</text>
<text x="506.1" y="348.6" font-size="7.1">Klebsiella</text>
<text x="497.1" y="359.5" font-size="7.1">Staphylococcus</text>
<text x="403.8" y="372.4" font-size="7.1">Lachnoclostridium</text>
<text x="411.0" y="410.1" font-size="7.1">Normal Breast</text>
<text x="533.0" y="410.3" font-size="7.1">Breast Tumor</text>
<text x="600.6" y="237.7" font-size="9.7">logCPM</text>
<circle cx="604.10" cy="248.80" r="1.2" fill="none" stroke="#333" stroke-width="0.6"/>
<text x="611.8" y="252.4" font-size="7.1">4</text>
<circle cx="604.10" cy="257.90" r="2.8" fill="none" stroke="#333" stroke-width="0.6"/>
<text x="611.8" y="261.0" font-size="7.1">8</text>
<circle cx="604.10" cy="267.80" r="4.0" fill="none" stroke="#333" stroke-width="0.6"/>
<text x="611.8" y="271.7" font-size="7.1">12</text>
<circle cx="604.10" cy="280.20" r="4.8" fill="none" stroke="#333" stroke-width="0.6"/>
<text x="611.8" y="283.9" font-size="7.1">16</text>
<text x="599.6" y="300.8" font-size="9.7">level</text>
<circle cx="604.30" cy="314.90" r="2.9" fill="#DE1A20" stroke="#951012" stroke-width="0.5"/>
<text x="611.8" y="318.50" font-size="7.1">Enriched</text>
<circle cx="604.30" cy="328.00" r="2.9" fill="#7AF20A" stroke="#4E9A0A" stroke-width="0.5"/>
<text x="611.8" y="331.60" font-size="7.1">Depleted</text>
<circle cx="604.30" cy="341.20" r="2.9" fill="#9E9E9E" stroke="#555555" stroke-width="0.5"/>
<text x="611.8" y="344.80" font-size="7.1">NotSig</text>
<text x="42.6" y="322.2" font-size="7.25">Aerobic</text>
<rect x="40.7" y="325.5" width="59.60" height="103.8" fill="none" stroke="#000" stroke-width="1"/>
<line x1="38.300000000000004" y1="334.5" x2="40.7" y2="334.5" stroke="#222" stroke-width="0.8"/>
<text x="37.7" y="336.60" font-size="5.9" text-anchor="end" fill="#222">1.0</text>
<line x1="38.300000000000004" y1="350.3" x2="40.7" y2="350.3" stroke="#222" stroke-width="0.8"/>
<text x="37.7" y="352.40" font-size="5.9" text-anchor="end" fill="#222">0.8</text>
<line x1="38.300000000000004" y1="368.9" x2="40.7" y2="368.9" stroke="#222" stroke-width="0.8"/>
<text x="37.7" y="371.00" font-size="5.9" text-anchor="end" fill="#222">0.6</text>
<line x1="38.300000000000004" y1="387.0" x2="40.7" y2="387.0" stroke="#222" stroke-width="0.8"/>
<text x="37.7" y="389.10" font-size="5.9" text-anchor="end" fill="#222">0.4</text>
<line x1="38.300000000000004" y1="405.6" x2="40.7" y2="405.6" stroke="#222" stroke-width="0.8"/>
<text x="37.7" y="407.70" font-size="5.9" text-anchor="end" fill="#222">0.2</text>
<line x1="38.300000000000004" y1="424.2" x2="40.7" y2="424.2" stroke="#222" stroke-width="0.8"/>
<text x="37.7" y="426.30" font-size="5.9" text-anchor="end" fill="#222">0.0</text>
<text transform="translate(27.3,369.3) rotate(-90)" font-size="6.1" text-anchor="middle">Relative Abundance</text>
<line x1="56.0" y1="332.5" x2="84.1" y2="332.5" stroke="#000" stroke-width="1.0"/>
<text x="70.05" y="331.0" font-size="6.6" text-anchor="middle">ns</text>
<rect x="47.5" y="406.3" width="18.80" height="11.20" fill="none" stroke="#1a1a1a" stroke-width="0.75"/>
<line x1="47.5" y1="411.7" x2="66.3" y2="411.7" stroke="#000" stroke-width="1.25"/>
<rect x="76.1" y="410.2" width="18.50" height="13.00" fill="none" stroke="#1a1a1a" stroke-width="0.75"/>
<line x1="76.1" y1="422.7" x2="94.6" y2="422.7" stroke="#000" stroke-width="1.25"/>
<circle cx="56.70" cy="373.70" r="0.68" fill="#9479D6"/>
<circle cx="56.70" cy="404.50" r="0.68" fill="#9479D6"/>
<circle cx="56.70" cy="409.50" r="0.68" fill="#9479D6"/>
<circle cx="56.70" cy="412.00" r="0.68" fill="#9479D6"/>
<circle cx="56.70" cy="415.00" r="0.68" fill="#9479D6"/>
<circle cx="56.70" cy="419.70" r="0.68" fill="#9479D6"/>
<circle cx="56.70" cy="421.70" r="0.68" fill="#9479D6"/>
<circle cx="85.30" cy="384.20" r="0.68" fill="#DE3E55"/>
<circle cx="85.30" cy="393.30" r="0.68" fill="#DE3E55"/>
<circle cx="85.30" cy="396.30" r="0.68" fill="#DE3E55"/>
<circle cx="85.30" cy="404.50" r="0.68" fill="#DE3E55"/>
<circle cx="85.30" cy="409.40" r="0.68" fill="#DE3E55"/>
<circle cx="85.30" cy="414.90" r="0.68" fill="#DE3E55"/>
<circle cx="85.80" cy="416.80" r="0.68" fill="#DE3E55"/>
<circle cx="85.30" cy="418.30" r="0.68" fill="#DE3E55"/>
<circle cx="85.30" cy="420.30" r="0.68" fill="#DE3E55"/>
<circle cx="85.30" cy="423.80" r="0.68" fill="#DE3E55"/>
<circle cx="85.30" cy="425.20" r="0.68" fill="#DE3E55"/>
<circle cx="80.50" cy="424.30" r="0.68" fill="#DE3E55"/>
<circle cx="83.00" cy="424.60" r="0.68" fill="#DE3E55"/>
<circle cx="88.00" cy="424.60" r="0.68" fill="#DE3E55"/>
<circle cx="90.50" cy="424.30" r="0.68" fill="#DE3E55"/>
<text x="56.5" y="436.9" font-size="6.25" text-anchor="middle">Normal</text>
<text x="56.5" y="444.3" font-size="6.25" text-anchor="middle">Breast</text>
<text x="85.2" y="436.9" font-size="6.25" text-anchor="middle">Breast</text>
<text x="85.2" y="444.3" font-size="6.25" text-anchor="middle">Tumor</text>
<text x="146.5" y="322.2" font-size="7.25">Anaerobic</text>
<rect x="145.6" y="325.5" width="57.70" height="103.8" fill="none" stroke="#000" stroke-width="1"/>
<line x1="143.2" y1="334.5" x2="145.6" y2="334.5" stroke="#222" stroke-width="0.8"/>
<text x="142.6" y="336.60" font-size="5.9" text-anchor="end" fill="#222">1.0</text>
<line x1="143.2" y1="350.3" x2="145.6" y2="350.3" stroke="#222" stroke-width="0.8"/>
<text x="142.6" y="352.40" font-size="5.9" text-anchor="end" fill="#222">0.8</text>
<line x1="143.2" y1="368.9" x2="145.6" y2="368.9" stroke="#222" stroke-width="0.8"/>
<text x="142.6" y="371.00" font-size="5.9" text-anchor="end" fill="#222">0.6</text>
<line x1="143.2" y1="387.0" x2="145.6" y2="387.0" stroke="#222" stroke-width="0.8"/>
<text x="142.6" y="389.10" font-size="5.9" text-anchor="end" fill="#222">0.4</text>
<line x1="143.2" y1="405.6" x2="145.6" y2="405.6" stroke="#222" stroke-width="0.8"/>
<text x="142.6" y="407.70" font-size="5.9" text-anchor="end" fill="#222">0.2</text>
<line x1="143.2" y1="424.2" x2="145.6" y2="424.2" stroke="#222" stroke-width="0.8"/>
<text x="142.6" y="426.30" font-size="5.9" text-anchor="end" fill="#222">0.0</text>
<text transform="translate(131.9,369.3) rotate(-90)" font-size="6.1" text-anchor="middle">Relative Abundance</text>
<line x1="160.4" y1="331.5" x2="188.6" y2="331.5" stroke="#000" stroke-width="1.0"/>
<text x="174.5" y="333.4" font-size="7.2" text-anchor="middle">**</text>
<rect x="151.2" y="346.7" width="19.30" height="14.80" fill="none" stroke="#1a1a1a" stroke-width="0.75"/>
<line x1="151.2" y1="355.2" x2="170.5" y2="355.2" stroke="#000" stroke-width="1.25"/>
<rect x="178.7" y="406.2" width="18.30" height="18.10" fill="none" stroke="#1a1a1a" stroke-width="0.75"/>
<line x1="178.7" y1="424.0" x2="197.0" y2="424.0" stroke="#000" stroke-width="1.25"/>
<circle cx="160.70" cy="335.70" r="0.68" fill="#9479D6"/>
<circle cx="160.70" cy="345.00" r="0.68" fill="#9479D6"/>
<circle cx="160.70" cy="347.80" r="0.68" fill="#9479D6"/>
<circle cx="160.70" cy="362.00" r="0.68" fill="#9479D6"/>
<circle cx="160.80" cy="423.30" r="0.68" fill="#9479D6"/>
<circle cx="160.70" cy="355.00" r="0.68" fill="#9479D6"/>
<circle cx="187.50" cy="336.50" r="0.68" fill="#DE3E55"/>
<circle cx="187.50" cy="338.70" r="0.68" fill="#DE3E55"/>
<circle cx="187.50" cy="360.70" r="0.68" fill="#DE3E55"/>
<circle cx="188.30" cy="402.50" r="0.68" fill="#DE3E55"/>
<circle cx="188.30" cy="404.20" r="0.68" fill="#DE3E55"/>
<circle cx="188.00" cy="419.20" r="0.68" fill="#DE3E55"/>
<circle cx="186.00" cy="420.00" r="0.68" fill="#DE3E55"/>
<circle cx="190.00" cy="420.50" r="0.68" fill="#DE3E55"/>
<circle cx="183.00" cy="424.80" r="0.68" fill="#DE3E55"/>
<circle cx="186.00" cy="425.30" r="0.68" fill="#DE3E55"/>
<circle cx="189.00" cy="425.30" r="0.68" fill="#DE3E55"/>
<circle cx="192.00" cy="424.80" r="0.68" fill="#DE3E55"/>
<text x="160.8" y="436.6" font-size="6.25" text-anchor="middle">Normal</text>
<text x="160.8" y="444.0" font-size="6.25" text-anchor="middle">Breast</text>
<text x="187.9" y="436.6" font-size="6.25" text-anchor="middle">Breast</text>
<text x="187.9" y="444.0" font-size="6.25" text-anchor="middle">Tumor</text>
<text x="247.0" y="322.2" font-size="7.25">Facultative Anaerobic</text>
<rect x="252.8" y="325.5" width="54.70" height="103.8" fill="none" stroke="#000" stroke-width="1"/>
<line x1="250.4" y1="334.5" x2="252.8" y2="334.5" stroke="#222" stroke-width="0.8"/>
<text x="249.8" y="336.60" font-size="5.9" text-anchor="end" fill="#222">1.0</text>
<line x1="250.4" y1="350.3" x2="252.8" y2="350.3" stroke="#222" stroke-width="0.8"/>
<text x="249.8" y="352.40" font-size="5.9" text-anchor="end" fill="#222">0.8</text>
<line x1="250.4" y1="368.9" x2="252.8" y2="368.9" stroke="#222" stroke-width="0.8"/>
<text x="249.8" y="371.00" font-size="5.9" text-anchor="end" fill="#222">0.6</text>
<line x1="250.4" y1="387.0" x2="252.8" y2="387.0" stroke="#222" stroke-width="0.8"/>
<text x="249.8" y="389.10" font-size="5.9" text-anchor="end" fill="#222">0.4</text>
<line x1="250.4" y1="405.6" x2="252.8" y2="405.6" stroke="#222" stroke-width="0.8"/>
<text x="249.8" y="407.70" font-size="5.9" text-anchor="end" fill="#222">0.2</text>
<line x1="250.4" y1="424.2" x2="252.8" y2="424.2" stroke="#222" stroke-width="0.8"/>
<text x="249.8" y="426.30" font-size="5.9" text-anchor="end" fill="#222">0.0</text>
<text transform="translate(239.6,369.3) rotate(-90)" font-size="6.1" text-anchor="middle">Relative Abundance</text>
<line x1="269.6" y1="331.5" x2="297.7" y2="331.5" stroke="#000" stroke-width="1.0"/>
<text x="283.65" y="333.4" font-size="7.2" text-anchor="middle">***</text>
<rect x="259.9" y="414.8" width="18.90" height="8.50" fill="none" stroke="#1a1a1a" stroke-width="0.75"/>
<line x1="259.9" y1="419.2" x2="278.8" y2="419.2" stroke="#000" stroke-width="1.25"/>
<rect x="285.4" y="343.1" width="18.20" height="52.10" fill="none" stroke="#1a1a1a" stroke-width="0.75"/>
<line x1="285.4" y1="361.4" x2="303.6" y2="361.4" stroke="#000" stroke-width="1.25"/>
<circle cx="268.90" cy="390.20" r="0.68" fill="#9479D6"/>
<circle cx="268.90" cy="410.70" r="0.68" fill="#9479D6"/>
<circle cx="268.90" cy="418.60" r="0.68" fill="#9479D6"/>
<circle cx="268.90" cy="423.30" r="0.68" fill="#9479D6"/>
<circle cx="267.50" cy="422.80" r="0.68" fill="#9479D6"/>
<circle cx="293.90" cy="334.70" r="0.68" fill="#DE3E55"/>
<circle cx="294.80" cy="336.60" r="0.68" fill="#DE3E55"/>
<circle cx="294.20" cy="339.00" r="0.68" fill="#DE3E55"/>
<circle cx="294.40" cy="343.20" r="0.68" fill="#DE3E55"/>
<circle cx="294.00" cy="349.40" r="0.68" fill="#DE3E55"/>
<circle cx="294.90" cy="350.60" r="0.68" fill="#DE3E55"/>
<circle cx="294.30" cy="352.70" r="0.68" fill="#DE3E55"/>
<circle cx="294.60" cy="356.50" r="0.68" fill="#DE3E55"/>
<circle cx="294.10" cy="361.20" r="0.68" fill="#DE3E55"/>
<circle cx="294.70" cy="363.10" r="0.68" fill="#DE3E55"/>
<circle cx="294.30" cy="366.90" r="0.68" fill="#DE3E55"/>
<circle cx="294.40" cy="387.80" r="0.68" fill="#DE3E55"/>
<circle cx="294.40" cy="395.00" r="0.68" fill="#DE3E55"/>
<circle cx="294.00" cy="401.20" r="0.68" fill="#DE3E55"/>
<circle cx="294.60" cy="403.50" r="0.68" fill="#DE3E55"/>
<circle cx="294.40" cy="415.80" r="0.68" fill="#DE3E55"/>
<circle cx="294.20" cy="420.10" r="0.68" fill="#DE3E55"/>
<circle cx="294.60" cy="421.40" r="0.68" fill="#DE3E55"/>
<text x="269.9" y="435.8" font-size="6.25" text-anchor="middle">Normal</text>
<text x="269.9" y="443.2" font-size="6.25" text-anchor="middle">Breast</text>
<text x="294.6" y="435.8" font-size="6.25" text-anchor="middle">Breast</text>
<text x="294.6" y="443.2" font-size="6.25" text-anchor="middle">Tumor</text>
</svg></body></html>
